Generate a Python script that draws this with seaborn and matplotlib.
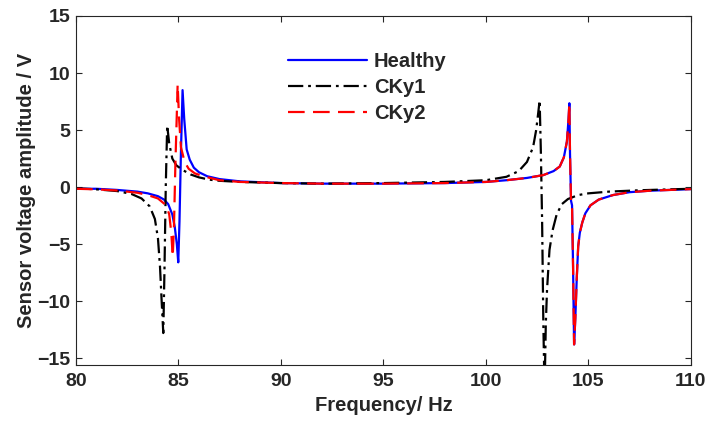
import numpy as np
import pandas as pd
import seaborn as sns
import matplotlib
matplotlib.use("Agg")
import matplotlib.pyplot as plt

# Values (frequency in Hz, amplitude in V)
healthy_f = [80, 81, 82, 83, 83.5, 84, 84.3, 84.5, 84.7, 84.82, 84.92, 84.99,
             85.05, 85.12, 85.2, 85.28, 85.4, 85.55, 85.75, 86.0, 86.4, 87, 88,
             90, 92, 95, 98, 100, 101, 102, 102.8, 103.3, 103.6, 103.8, 103.95,
             104.03, 104.07, 104.1, 104.15, 104.2, 104.25, 104.3, 104.36, 104.43,
             104.5, 104.58, 104.7, 104.85, 105.1, 105.5, 106.2, 107, 108, 109, 110]
healthy_v = [-0.15, -0.15, -0.25, -0.4, -0.55, -0.8, -1.1, -1.5, -2.4, -3.5, -5.0, -6.6,
             -3.0, 3.0, 8.5, 6.0, 3.3, 2.4, 1.7, 1.3, 0.95, 0.7, 0.5,
             0.35, 0.3, 0.3, 0.35, 0.45, 0.6, 0.8, 1.05, 1.4, 1.8, 2.6, 4.0,
             6.0, 7.35, 3.0, -1.2, -1.6, -7.0, -13.8, -11.5, -8.0,
             -5.2, -4.0, -3.1, -2.3, -1.6, -1.1, -0.7, -0.45, -0.32, -0.25, -0.18]

cky1_f = [80, 81, 82, 82.7, 83.2, 83.6, 83.85, 84.0, 84.1, 84.18, 84.26, 84.32,
          84.38, 84.45, 84.55, 84.7, 84.9, 85.2, 85.6, 86.0, 86.5, 87, 88, 90,
          92, 95, 98, 100, 101, 101.6, 102.0, 102.3, 102.45, 102.55, 102.62,
          102.68, 102.74, 102.8, 102.86, 102.92, 102.98, 103.1, 103.25, 103.45,
          103.7, 104.0, 104.5, 105, 106, 107.5, 109, 110]
cky1_v = [-0.1, -0.2, -0.35, -0.6, -1.0, -1.7, -2.8, -4.5, -7.0, -10.0, -12.8, -7.0,
          0.0, 5.4, 3.8, 2.5, 1.9, 1.5, 1.1, 0.85, 0.65, 0.55, 0.45, 0.35,
          0.3, 0.35, 0.45, 0.6, 0.9, 1.4, 2.2, 3.5, 5.0, 6.5, 7.6,
          3.0, -3.0, -12.0, -18.0, -12.0, -9.0, -5.5, -3.8, -2.4,
          -1.5, -1.05, -0.7, -0.55, -0.4, -0.28, -0.2, -0.15]

cky2_f = [80, 81, 82, 83, 83.5, 84, 84.4, 84.55, 84.65, 84.72, 84.78, 84.85,
          84.96, 85.03, 85.12, 85.3, 85.5, 85.8, 86.2, 87, 88,
          90, 92, 95, 98, 100, 101, 102, 102.8, 103.3, 103.6, 103.8, 103.95,
          104.03, 104.07, 104.1, 104.15, 104.2, 104.25, 104.3, 104.36, 104.43,
          104.5, 104.58, 104.7, 104.85, 105.1, 105.5, 106.2, 107, 108, 109, 110]
cky2_v = [-0.15, -0.2, -0.3, -0.5, -0.7, -1.0, -1.6, -2.4, -4.0, -6.1, -3.5, 2.0,
          9.0, 6.0, 3.5, 2.2, 1.6, 1.2, 0.95, 0.6, 0.45,
          0.35, 0.3, 0.3, 0.35, 0.45, 0.6, 0.8, 1.05, 1.4, 1.8, 2.6, 4.0,
          6.0, 7.35, 3.0, -1.2, -1.6, -7.0, -13.8, -11.5, -8.0,
          -5.2, -4.0, -3.1, -2.3, -1.6, -1.1, -0.7, -0.45, -0.32, -0.25, -0.18]

x_ticks = [80, 85, 90, 95, 100, 105, 110]
y_ticks = [-15, -10, -5, 0, 5, 10, 15]

sns.set_style("ticks")
plt.rcParams['font.family'] = ['Liberation Sans', 'DejaVu Sans']
plt.rcParams['font.weight'] = 'bold'
plt.rcParams['lines.scale_dashes'] = False
dark = '#262626'

fig = plt.figure(figsize=(7.08, 4.25), dpi=100)
ax = fig.add_axes([0.1073, 0.1412, 0.8686, 0.8212])

sns.lineplot(x=healthy_f, y=healthy_v, ax=ax, color='blue', lw=1.6,
             label='Healthy', estimator=None, sort=False)
sns.lineplot(x=cky1_f, y=cky1_v, ax=ax, color='black', lw=1.6,
             label='CKy1', estimator=None, sort=False)
sns.lineplot(x=cky2_f, y=cky2_v, ax=ax, color='red', lw=1.6,
             label='CKy2', estimator=None, sort=False)
ax.lines[1].set_dashes((11, 3.5, 2, 3.5))
ax.lines[2].set_dashes((12, 6))

ax.set_xlim(80, 110)
ax.set_ylim(-15.6, 15)
ax.set_xticks(x_ticks)
ax.set_yticks(y_ticks)
ax.tick_params(direction='in', length=4, width=0.8, top=True, right=True,
               labelsize=14, colors=dark, pad=4)
ax.tick_params(axis='x', pad=6)
for s in ax.spines.values():
    s.set_linewidth(0.8)
    s.set_color(dark)
    s.set_visible(True)
ax.set_xlabel('Frequency/ Hz', fontsize=14.5, fontweight='bold', color=dark, labelpad=4)
ax.set_ylabel('Sensor voltage amplitude / V', fontsize=14.5, fontweight='bold',
              color=dark, labelpad=1)

leg = ax.legend(loc='upper left', bbox_to_anchor=(0.332, 0.92), frameon=False,
                fontsize=14.5, handlelength=3.9, handletextpad=0.35,
                labelspacing=0.35, borderaxespad=0)
for t in leg.get_texts():
    t.set_fontweight('bold')
    t.set_color(dark)

fig.savefig('out.png', dpi=100)
